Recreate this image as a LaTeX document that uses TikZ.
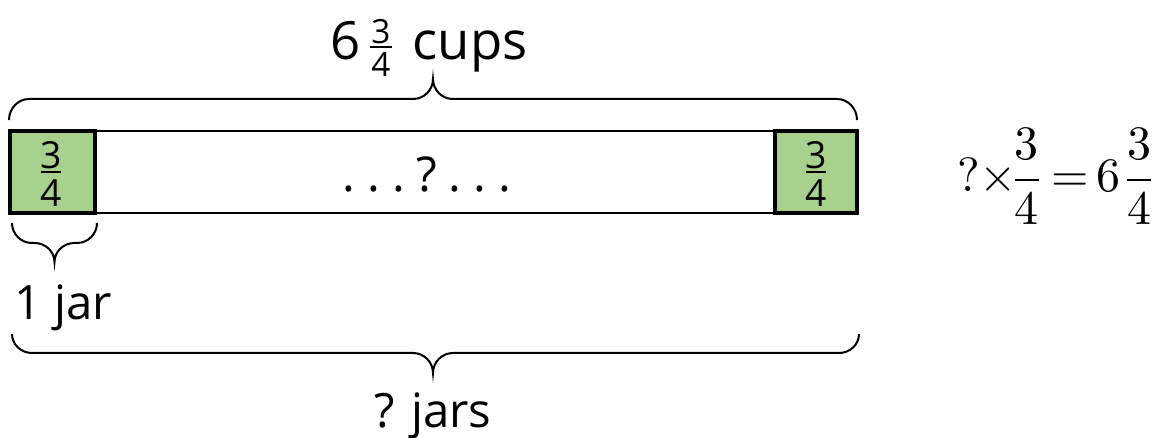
\documentclass[tikz,border=0pt]{standalone}
\usepackage{unicode-math}
\setmainfont{Open Sans}
\setmathfont{Latin Modern Math}
\definecolor{jargreen}{HTML}{A9D18E}
\newcommand\curlybrace[6]{% #1 left x, #2 right x, #3 end y, #4 line y, #5 tip y, #6 tip x
  \draw[bracestyle] (#1,#3) .. controls (#1,{#3+0.55*(#4-#3)}) and ({#1+9},#4) .. ({#1+20},#4)
    -- ({#6-20},#4) .. controls ({#6-9},#4) and (#6,{#4+0.45*(#5-#4)}) .. (#6,#5)
    .. controls (#6,{#4+0.45*(#5-#4)}) and ({#6+9},#4) .. ({#6+20},#4)
    -- ({#2-20},#4) .. controls ({#2-9},#4) and (#2,{#3+0.55*(#4-#3)}) .. (#2,#3);}
\newcommand\dotbox[1]{\makebox[18.75pt]{#1}}
% stacked fraction: #1 num, #2 den, #3 bar width, #4 gap above bar, #5 gap below bar
\newcommand\stackfrac[5]{\vbox{\offinterlineskip
  \hbox to #3{\hss#1\hss}\kern#4\hrule height 1.5pt\kern#5\hbox to #3{\hss#2\hss}}}
\begin{document}
\begin{tikzpicture}[x=0.75pt,y=-0.75pt,
  bracestyle/.style={line width=1.5pt,black},
  barbox/.style={draw,line width=1.5pt,inner sep=0pt,outer sep=0pt},
  gbox/.style={draw,line width=3pt,fill=jargreen,inner sep=0pt,outer sep=0pt},
  txt/.style={inner sep=0pt,outer sep=0pt},
  big/.style={txt,font=\fontsize{39.5pt}{46pt}\selectfont},
  lbl/.style={txt,font=\fontsize{35.5pt}{42pt}\selectfont},
  midtxt/.style={txt,font=\fontsize{36pt}{42pt}\selectfont},
  boxfrac/.style={txt,anchor=base,font=\fontsize{28pt}{32pt}\selectfont},
  smallfrac/.style={txt,anchor=base,font=\fontsize{25pt}{28pt}\selectfont}]
\useasboundingbox (0,0) rectangle (1154,438);
% bar and jars
\node[barbox,minimum width=636pt,minimum height=61.5pt] (bar) at (433,172) {};
\node[gbox,minimum width=63.9pt,minimum height=61.1pt] (lbox) at (52.1,171.8) {};
\node[gbox,minimum width=61.5pt,minimum height=61.1pt] (rbox) at (816,171.8) {};
% fractions inside the jars
\node[boxfrac] (lfrac) at (51,207) {\stackfrac{3}{4}{15pt}{1.5pt}{5.5pt}};
\node[boxfrac] (rfrac) at (816,207) {\stackfrac{3}{4}{15pt}{1.5pt}{5.5pt}};
% middle text
\node[midtxt,anchor=base] (dots) at (426.5,192)
  {\dotbox{.}\dotbox{.}\dotbox{.}\makebox[23.25pt]{?}\dotbox{.}\dotbox{.}\dotbox{.}};
% header
\node[big,anchor=base] (six) at (345.5,60) {6};
\node[smallfrac] (hfrac) at (381,77) {\stackfrac{3}{4}{17pt}{1.5pt}{4pt}};
\node[big,anchor=base] (cups) at (470,60) {cups};
% braces
\curlybrace{9}{857}{120}{99}{79}{433}
\curlybrace{12}{97}{223}{243}{262}{54.5}
\curlybrace{12}{859}{334}{353}{373}{433}
% labels
\node[lbl,anchor=base west] (onejar) at (15,320) {1 jar};
\node[lbl,anchor=base,text depth=0pt] (qjars) at (433,427) {? jars};
% equation
\node[txt,anchor=base,font=\fontsize{36pt}{42pt}\selectfont] (eq) at (1055,192)
  {${?}{\times}\mkern-1.5mu{\dfrac{3}{4}}\mkern4mu{=}\mkern3mu{6}\mkern2mu{\dfrac{3}{4}}$};
\end{tikzpicture}
\end{document}
